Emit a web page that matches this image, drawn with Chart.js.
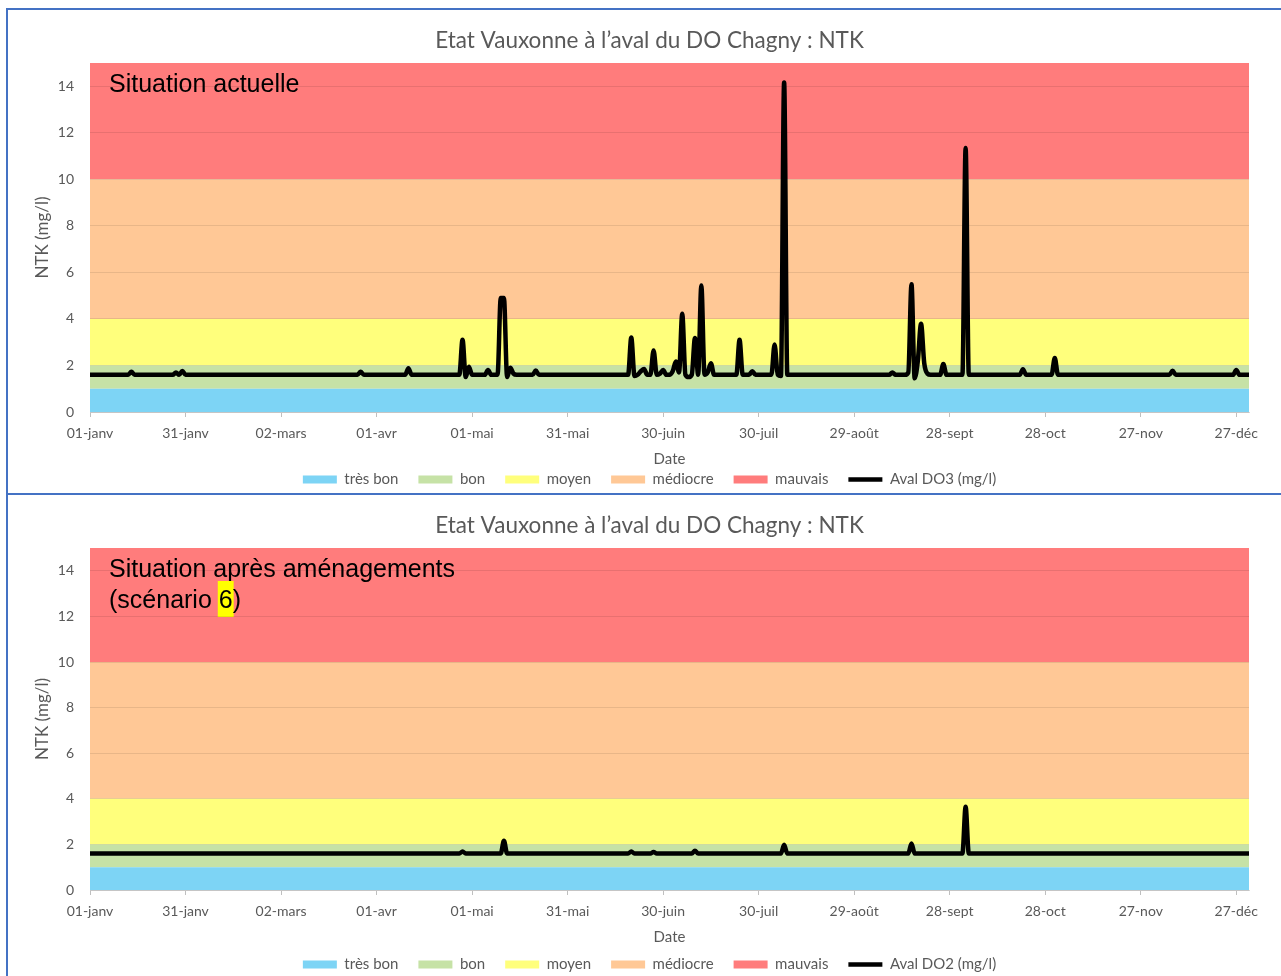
<!DOCTYPE html>
<html lang="fr">
<head>
<meta charset="utf-8">
<title>Etat Vauxonne à l’aval du DO Chagny : NTK</title>
<script src="https://cdn.jsdelivr.net/npm/chart.js@4.4.1/dist/chart.umd.min.js"></script>
<style>
    body { margin: 0; background: #fff; overflow: hidden; }
    .box { position: absolute; left: 6px; width: 1280px; border: 2px solid #4472c4; background: #fff; }
    #box1 { top: 8px; height: 483px; }
    #box2 { top: 493px; height: 490px; }
    canvas { display: block; }
</style>
</head>
<body>
<div class="box" id="box1"><canvas id="chartActuel" width="1272" height="483"></canvas></div>
<div class="box" id="box2"><canvas id="chartScenario" width="1272" height="483"></canvas></div>

<script>
// Axe X : jour de l'année (0 = 01-janv) et étiquettes
const TICK_DAYS = [0, 30, 60, 90, 120, 150, 180, 210, 240, 270, 300, 330, 360];
const TICK_LABELS = ['01-janv', '31-janv', '02-mars', '01-avr', '01-mai', '31-mai', '30-juin',
    '30-juil', '29-août', '28-sept', '28-oct', '27-nov', '27-déc'];
const LAST_DAY = 364;

// Classes de qualité NTK (borne haute, mg/l)
const CLASS_NAMES = ['très bon', 'bon', 'moyen', 'médiocre', 'mauvais'];
const CLASS_LIMITS = [1, 2, 4, 10, 15];
const CLASS_COLORS = ['#7dd4f5', '#c6e2a6', '#ffff7c', '#ffc896', '#ff7c7c'];

// Aval DO3 - situation actuelle
const DO3_DAYS = [
    0, 12, 13, 14, 26, 27, 28, 29, 30, 84, 85, 86, 99, 100, 101,
    116, 117, 118, 119, 120, 124, 125, 126, 128, 129, 130, 131, 132, 133, 134, 139, 140, 141,
    169, 170, 171, 172, 173, 174, 175, 176, 177, 178, 179, 180, 181, 182, 183, 184, 185,
    186, 187, 188, 189, 190, 191, 192, 193, 194, 195, 196, 203, 204, 205, 207, 208, 209,
    214, 215, 216, 217, 218, 219, 251, 252, 253, 256, 257, 258, 259, 260, 261, 262, 263, 264,
    267, 268, 269, 274, 275, 276, 292, 293, 294, 302, 303, 304, 339, 340, 341, 359, 360, 361, 364
];
const DO3_VALUES = [
    1.6, 1.6, 1.73, 1.6, 1.6, 1.7, 1.6, 1.76, 1.6, 1.6, 1.73, 1.6, 1.6, 1.88, 1.6,
    1.6, 3.11, 1.5, 1.94, 1.6, 1.6, 1.8, 1.6, 1.6, 4.9, 4.9, 1.5, 1.9, 1.65, 1.6, 1.6, 1.78, 1.6,
    1.6, 3.2, 1.55, 1.6, 1.75, 1.85, 1.6, 1.6, 2.64, 1.6, 1.65, 1.8, 1.6, 1.6, 1.75, 2.17, 1.7,
    4.22, 1.6, 1.5, 1.6, 3.18, 1.6, 5.44, 1.6, 1.7, 2.1, 1.6, 1.6, 3.1, 1.6, 1.6, 1.75, 1.6,
    1.6, 2.9, 1.6, 1.55, 14.16, 1.6, 1.6, 1.7, 1.6, 1.6, 1.7, 5.49, 1.45, 2.2, 3.79, 2.1, 1.65, 1.6,
    1.6, 2.06, 1.6, 1.6, 11.35, 1.6, 1.6, 1.84, 1.6, 1.6, 2.32, 1.6, 1.6, 1.77, 1.6, 1.6, 1.8, 1.6, 1.6
];

// Aval DO2 - situation après aménagements (scénario 6)
const DO2_DAYS = [0, 116, 117, 118, 129, 130, 131, 169, 170, 171, 176, 177, 178,
    189, 190, 191, 217, 218, 219, 257, 258, 259, 274, 275, 276, 364];
const DO2_VALUES = [1.6, 1.6, 1.69, 1.6, 1.6, 2.16, 1.6, 1.6, 1.69, 1.6, 1.6, 1.67, 1.6,
    1.6, 1.72, 1.6, 1.6, 1.98, 1.6, 1.6, 2.04, 1.6, 1.6, 3.65, 1.6, 1.6];

const TITLE = 'Etat Vauxonne à l’aval du DO Chagny : NTK';
const GREY = '#595959';

Chart.defaults.font.family = 'Lato, "Open Sans", sans-serif';
Chart.defaults.color = GREY;

// Texte encadré dans la zone de tracé ("Situation ...")
const situationPlugin = {
    id: 'situation',
    afterDatasetsDraw(chart, args, opts) {
        const { ctx, chartArea } = chart;
        const x = chartArea.left + 19;
        let y = chartArea.top + 29;
        ctx.save();
        ctx.font = '25px "Liberation Sans", Arial, sans-serif';
        ctx.textBaseline = 'alphabetic';
        opts.lines.forEach(line => {
            const i = opts.highlight ? line.indexOf(opts.highlight) : -1;
            if (i >= 0) {
                const before = ctx.measureText(line.slice(0, i)).width;
                const w = ctx.measureText(opts.highlight).width;
                ctx.fillStyle = '#ffff00';
                ctx.fillRect(x + before - 1, y - 27, w + 2, 36);
            }
            ctx.fillStyle = '#000';
            ctx.fillText(line, x, y);
            y += 31;
        });
        ctx.restore();
    }
};

function bandDatasets() {
    return CLASS_NAMES.map((name, i) => ({
        label: name,
        data: [{ x: 0, y: CLASS_LIMITS[i] }, { x: LAST_DAY, y: CLASS_LIMITS[i] }],
        backgroundColor: CLASS_COLORS[i],
        borderColor: CLASS_COLORS[i],
        borderWidth: 0,
        pointRadius: 0,
        pointStyle: 'rect',
        fill: i === 0 ? 'origin' : '-1'
    }));
}

function makeChart(canvasId, seriesLabel, days, values, situation, axisHeight, dateOffset) {
    const ctx = document.getElementById(canvasId).getContext('2d');
    const series = {
        label: seriesLabel,
        data: days.map((d, i) => ({ x: d, y: values[i] })),
        borderColor: '#000',
        backgroundColor: '#000',
        borderWidth: 4.5,
        pointRadius: 0,
        pointStyle: 'line',
        cubicInterpolationMode: 'monotone',
        fill: false,
        order: -1
    };

    return new Chart(ctx, {
        type: 'line',
        data: { datasets: [...bandDatasets(), series] },
        plugins: [situationPlugin],
        options: {
            responsive: false,
            animation: false,
            events: [],
            layout: { padding: { left: 42, right: 31, top: 0, bottom: -4 } },
            plugins: {
                title: {
                    display: true,
                    text: TITLE,
                    color: GREY,
                    font: { size: 22.5, weight: 'normal' },
                    padding: { top: 17, bottom: 9 }
                },
                legend: {
                    position: 'bottom',
                    labels: {
                        usePointStyle: true,
                        pointStyleWidth: 34,
                        boxHeight: 8,
                        padding: 20,
                        color: GREY,
                        font: { size: 15 },
                        sort: (a, b) => a.datasetIndex - b.datasetIndex
                    }
                },
                tooltip: { enabled: false },
                situation: situation
            },
            scales: {
                x: {
                    type: 'linear',
                    min: 0,
                    max: LAST_DAY,
                    afterBuildTicks: scale => {
                        scale.ticks = TICK_DAYS.map(v => ({ value: v }));
                    },
                    afterFit: scale => { scale.height = axisHeight; },
                    ticks: {
                        autoSkip: false,
                        maxRotation: 0,
                        padding: 8,
                        color: GREY,
                        font: { size: 14 },
                        callback: value => TICK_LABELS[TICK_DAYS.indexOf(value)]
                    },
                    grid: {
                        drawOnChartArea: false,
                        drawTicks: true,
                        tickLength: 5,
                        color: '#bfbfbf'
                    },
                    border: { color: '#d9d9d9' },
                    title: {
                        display: true,
                        text: 'Date',
                        color: GREY,
                        font: { size: 15 },
                        padding: { top: 0, bottom: dateOffset }
                    }
                },
                y: {
                    min: 0,
                    max: 15,
                    afterFit: scale => { scale.width = 40; },
                    ticks: {
                        stepSize: 2,
                        includeBounds: false,
                        padding: 16,
                        color: GREY,
                        font: { size: 14 }
                    },
                    grid: {
                        z: 1,
                        drawTicks: false,
                        color: 'rgba(0, 0, 0, 0.09)'
                    },
                    border: { display: false },
                    title: {
                        display: true,
                        text: 'NTK (mg/l)',
                        color: GREY,
                        font: { size: 17 },
                        padding: { top: -18, bottom: 0 }
                    }
                }
            }
        }
    });
}

makeChart('chartActuel', 'Aval DO3 (mg/l)', DO3_DAYS, DO3_VALUES,
    { lines: ['Situation actuelle'] }, 40, -16);
makeChart('chartScenario', 'Aval DO2 (mg/l)', DO2_DAYS, DO2_VALUES,
    { lines: ['Situation après aménagements', '(scénario 6)'], highlight: '6' }, 47, -9);
</script>
</body>
</html>
